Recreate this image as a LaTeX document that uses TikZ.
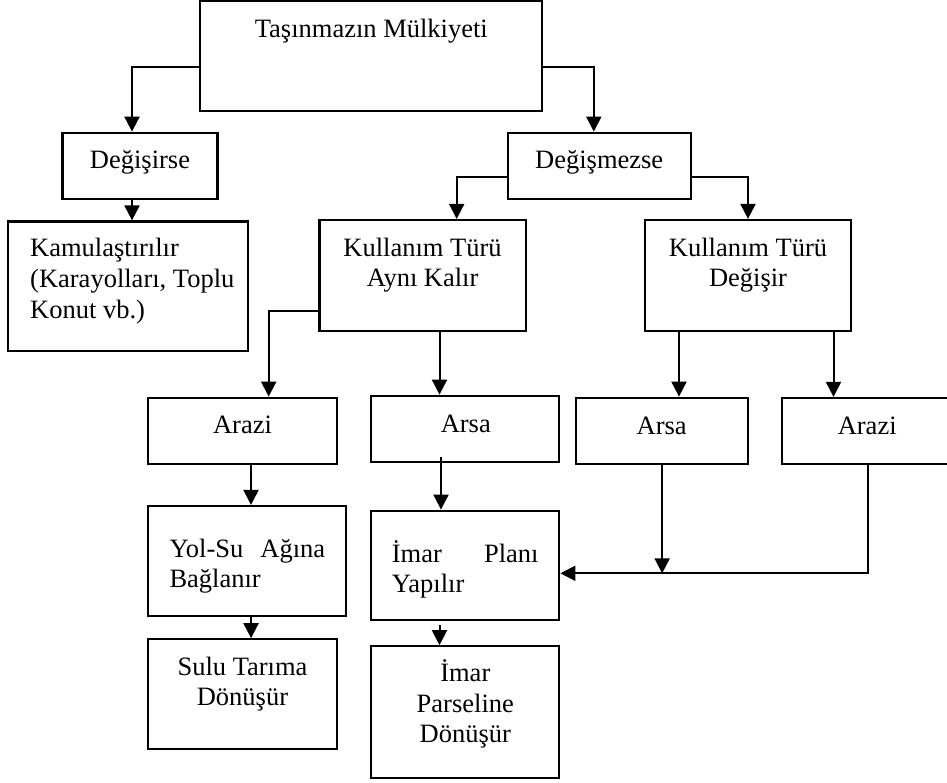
\documentclass[tikz,border=0pt]{standalone}
\usepackage{fontspec}
\setmainfont{Liberation Serif}
\usetikzlibrary{arrows.meta,fit}

\tikzset{
  box/.style={draw, line width=2.2pt, inner sep=0pt},
  lbl/.style={inner sep=0pt, anchor=base, font=\fontsize{26.5}{30.5}\selectfont},
  lbll/.style={lbl, anchor=base west},
  arr/.style={line width=2pt, -{Triangle[width=15pt,length=15pt]}}
}

\begin{document}
\begin{tikzpicture}[x=1pt, y=-1pt]
\useasboundingbox (0,0) rectangle (947,782);

% boxes
\node[box, fit={(200,1) (542.3,110.7)}]        (top)     {};
\node[box, fit={(62.4,132.7) (217.4,199)}]     (deg)     {};
\node[box, fit={(507.6,132.7) (690.8,198.7)}]  (degm)    {};
\node[box, fit={(8.3,221.5) (248.3,350.7)}]    (kam)     {};
\node[box, fit={(319.4,220) (525.8,330.7)}]    (ayni)    {};
\node[box, fit={(645,220) (851,330.7)}]        (degisir) {};
\node[box, fit={(148.3,397.7) (336.7,464.3)}]  (arazi1)  {};
\node[box, fit={(370.7,395.7) (559.3,461.7)}]  (arsa1)   {};
\node[box, fit={(576,397.7) (748.3,464.3)}]    (arsa2)   {};
\node[box, fit={(781.7,398) (952,464.3)}]      (arazi2)  {};
\node[box, fit={(148.3,506) (346,616)}]        (yol)     {};
\node[box, fit={(370.7,510.7) (559.3,620.3)}]  (imar)    {};
\node[box, fit={(148.3,639.3) (336.7,749.3)}]  (sulu)    {};
\node[box, fit={(370.7,646.3) (559.3,778.3)}]  (parsel)  {};

% labels
\node[lbl] (t-top) at (371.3,37) {Taşınmazın Mülkiyeti};
\node[lbl] (t-deg) at (140,168) {Değişirse};
\node[lbl] (t-degm) at (599.2,168) {Değişmezse};
\node[lbll] (t-kam1) at (30,256.5) {Kamulaştırılır};
\node[lbll] (t-kam2) at (30,287.5) {(Karayolları, Toplu};
\node[lbll] (t-kam3) at (30,318) {Konut vb.)};
\node[lbl] (t-ayni1) at (422.6,256) {Kullanım Türü};
\node[lbl] (t-ayni2) at (422.6,286.5) {Aynı Kalır};
\node[lbl] (t-dgs1) at (748,256) {Kullanım Türü};
\node[lbl] (t-dgs2) at (748,286.5) {Değişir};
\node[lbl] (t-arazi1) at (242.5,433) {Arazi};
\node[lbl] (t-arsa1) at (465.8,432) {Arsa};
\node[lbl] (t-arsa2) at (661.7,434) {Arsa};
\node[lbl] (t-arazi2) at (867.2,434) {Arazi};
\node[lbll] (t-yol1) at (169.3,557) {\makebox[155.7pt][s]{Yol-Su\hfill Ağına}};
\node[lbll] (t-yol2) at (169.3,587.5) {Bağlanır};
\node[lbll] (t-imar1) at (391.7,562.5) {\makebox[146.6pt][s]{İmar\hfill Planı}};
\node[lbll] (t-imar2) at (391.7,592.5) {Yapılır};
\node[lbl] (t-sulu1) at (242.5,675) {Sulu Tarıma};
\node[lbl] (t-sulu2) at (242.5,705) {Dönüşür};
\node[lbl] (t-par1) at (465.3,681.5) {İmar};
\node[lbl] (t-par2) at (465.3,712) {Parseline};
\node[lbl] (t-par3) at (465.3,742.5) {Dönüşür};

% connectors
\draw[arr] ([yshift=-11.6pt]top.west) -| ([xshift=-7.9pt]deg.north);
\draw[arr] ([yshift=-11.6pt]top.east) -| ([xshift=-5.4pt]degm.north);
\draw[arr] ([xshift=-7.9pt]deg.south) -- ([xshift=-7.9pt]deg.south |- kam.north);
\draw[arr] ([yshift=-11pt]degm.west) -| ([xshift=34.1pt]ayni.north);
\draw[arr] ([yshift=-11pt]degm.east) -| (degisir.north);
\draw[arr] ([yshift=-35.2pt]ayni.west) -| ([xshift=26.2pt]arazi1.north);
\draw[arr] ([xshift=16.9pt]ayni.south) -- ([xshift=16.9pt]ayni.south |- arsa1.north);
\draw[arr] ([xshift=-69pt]degisir.south) -- ([xshift=-69pt]degisir.south |- arsa2.north);
\draw[arr] ([xshift=85.5pt]degisir.south) -- ([xshift=85.5pt]degisir.south |- arazi2.north);
\draw[arr] ([xshift=8.5pt]arazi1.south) -- ([xshift=8.5pt]arazi1.south |- yol.north);
\draw[arr] ([xshift=-24pt,yshift=5.7pt]arsa1.south) -- ([xshift=-24pt]arsa1.south |- imar.north);
\draw[arr] ([xshift=3.9pt]yol.south) -- ([xshift=3.9pt]yol.south |- sulu.north);
\draw[arr] ([xshift=-25.5pt,yshift=-3.7pt]imar.south) -- ([xshift=-25.5pt]imar.south |- parsel.north);

% the two branches on the right join into one arrow to the plan box
\coordinate (merge) at ([yshift=-7.8pt]imar.east);
\draw[arr] (arsa2.south) -- (arsa2.south |- merge);
\draw[arr] ([xshift=0.8pt]arazi2.south) |- (merge);
\end{tikzpicture}
\end{document}
